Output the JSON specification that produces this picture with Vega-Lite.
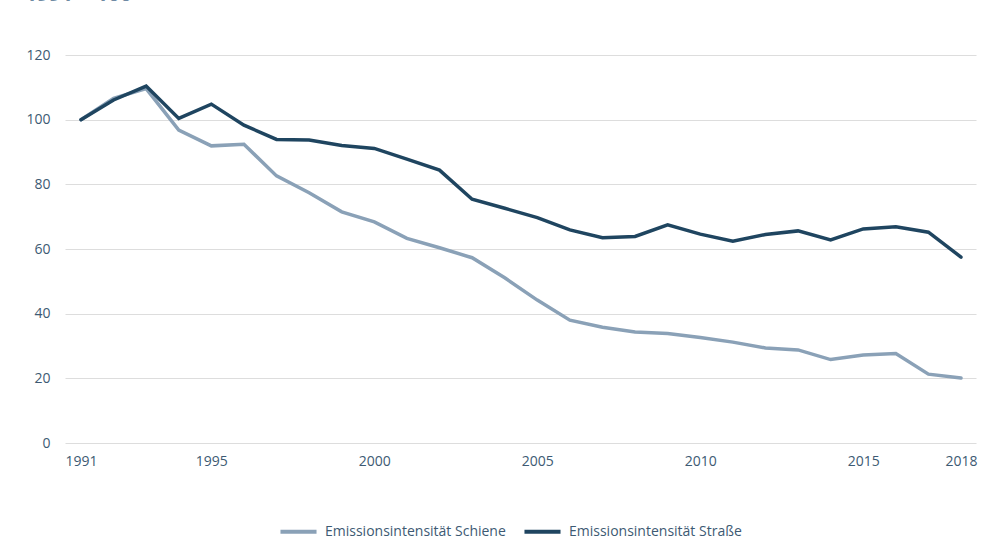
{
  "$schema": "https://vega.github.io/schema/vega-lite/v6.json",
  "autosize": "none",
  "width": 911,
  "height": 388,
  "padding": {"left": 65, "top": 55, "right": 6, "bottom": 97},
  "background": "white",
  "title": {
    "text": "1991 = 100",
    "anchor": "start",
    "offset": 43,
    "dx": -1,
    "fontSize": 21,
    "font": "Open Sans",
    "fontWeight": "bold",
    "color": "#6f8aa3"
  },
  "data": {
    "values": [
      {"year": 1991, "series": "Emissionsintensität Schiene", "value": 100},
      {"year": 1992, "series": "Emissionsintensität Schiene", "value": 106.6},
      {"year": 1993, "series": "Emissionsintensität Schiene", "value": 109.6},
      {"year": 1994, "series": "Emissionsintensität Schiene", "value": 96.8},
      {"year": 1995, "series": "Emissionsintensität Schiene", "value": 91.9},
      {"year": 1996, "series": "Emissionsintensität Schiene", "value": 92.4},
      {"year": 1997, "series": "Emissionsintensität Schiene", "value": 82.6},
      {"year": 1998, "series": "Emissionsintensität Schiene", "value": 77.4},
      {"year": 1999, "series": "Emissionsintensität Schiene", "value": 71.5},
      {"year": 2000, "series": "Emissionsintensität Schiene", "value": 68.4},
      {"year": 2001, "series": "Emissionsintensität Schiene", "value": 63.3},
      {"year": 2002, "series": "Emissionsintensität Schiene", "value": 60.4},
      {"year": 2003, "series": "Emissionsintensität Schiene", "value": 57.3},
      {"year": 2004, "series": "Emissionsintensität Schiene", "value": 51.1},
      {"year": 2005, "series": "Emissionsintensität Schiene", "value": 44.2},
      {"year": 2006, "series": "Emissionsintensität Schiene", "value": 38.0},
      {"year": 2007, "series": "Emissionsintensität Schiene", "value": 35.8},
      {"year": 2008, "series": "Emissionsintensität Schiene", "value": 34.3},
      {"year": 2009, "series": "Emissionsintensität Schiene", "value": 33.9},
      {"year": 2010, "series": "Emissionsintensität Schiene", "value": 32.6},
      {"year": 2011, "series": "Emissionsintensität Schiene", "value": 31.2},
      {"year": 2012, "series": "Emissionsintensität Schiene", "value": 29.4},
      {"year": 2013, "series": "Emissionsintensität Schiene", "value": 28.8},
      {"year": 2014, "series": "Emissionsintensität Schiene", "value": 25.8},
      {"year": 2015, "series": "Emissionsintensität Schiene", "value": 27.2},
      {"year": 2016, "series": "Emissionsintensität Schiene", "value": 27.7},
      {"year": 2017, "series": "Emissionsintensität Schiene", "value": 21.3},
      {"year": 2018, "series": "Emissionsintensität Schiene", "value": 20.1},
      {"year": 1991, "series": "Emissionsintensität Straße", "value": 100},
      {"year": 1992, "series": "Emissionsintensität Straße", "value": 106.1},
      {"year": 1993, "series": "Emissionsintensität Straße", "value": 110.4},
      {"year": 1994, "series": "Emissionsintensität Straße", "value": 100.4},
      {"year": 1995, "series": "Emissionsintensität Straße", "value": 104.8},
      {"year": 1996, "series": "Emissionsintensität Straße", "value": 98.3},
      {"year": 1997, "series": "Emissionsintensität Straße", "value": 93.9},
      {"year": 1998, "series": "Emissionsintensität Straße", "value": 93.7},
      {"year": 1999, "series": "Emissionsintensität Straße", "value": 92.0},
      {"year": 2000, "series": "Emissionsintensität Straße", "value": 91.1},
      {"year": 2001, "series": "Emissionsintensität Straße", "value": 87.8},
      {"year": 2002, "series": "Emissionsintensität Straße", "value": 84.4},
      {"year": 2003, "series": "Emissionsintensität Straße", "value": 75.4},
      {"year": 2004, "series": "Emissionsintensität Straße", "value": 72.6},
      {"year": 2005, "series": "Emissionsintensität Straße", "value": 69.7},
      {"year": 2006, "series": "Emissionsintensität Straße", "value": 65.9},
      {"year": 2007, "series": "Emissionsintensität Straße", "value": 63.5},
      {"year": 2008, "series": "Emissionsintensität Straße", "value": 63.9},
      {"year": 2009, "series": "Emissionsintensität Straße", "value": 67.5},
      {"year": 2010, "series": "Emissionsintensität Straße", "value": 64.6},
      {"year": 2011, "series": "Emissionsintensität Straße", "value": 62.4},
      {"year": 2012, "series": "Emissionsintensität Straße", "value": 64.5},
      {"year": 2013, "series": "Emissionsintensität Straße", "value": 65.6},
      {"year": 2014, "series": "Emissionsintensität Straße", "value": 62.8},
      {"year": 2015, "series": "Emissionsintensität Straße", "value": 66.2},
      {"year": 2016, "series": "Emissionsintensität Straße", "value": 66.9},
      {"year": 2017, "series": "Emissionsintensität Straße", "value": 65.2},
      {"year": 2018, "series": "Emissionsintensität Straße", "value": 57.5}
    ]
  },
  "mark": {"type": "line", "strokeWidth": 3.5, "strokeJoin": "miter", "strokeCap": "round"},
  "encoding": {
    "x": {
      "field": "year",
      "type": "quantitative",
      "scale": {"domain": [1990.51, 2018.46], "nice": false, "zero": false},
      "axis": {
        "title": null,
        "values": [1991, 1995, 2000, 2005, 2010, 2015, 2018],
        "format": "d",
        "grid": false,
        "domain": false,
        "ticks": false,
        "labelPadding": 11,
        "labelFontSize": 14,
        "labelFont": "Open Sans",
        "labelColor": "#3d5a73"
      }
    },
    "y": {
      "field": "value",
      "type": "quantitative",
      "scale": {"domain": [0, 120], "nice": false},
      "axis": {
        "title": null,
        "values": [0, 20, 40, 60, 80, 100, 120],
        "grid": true,
        "gridColor": "#dddddd",
        "gridWidth": 1,
        "domain": false,
        "ticks": false,
        "labelPadding": 15,
        "labelFontSize": 14,
        "labelFont": "Open Sans",
        "labelColor": "#3d5a73"
      }
    },
    "color": {
      "field": "series",
      "type": "nominal",
      "scale": {
        "domain": ["Emissionsintensität Schiene", "Emissionsintensität Straße"],
        "range": ["#8aa1b7", "#1f4560"]
      },
      "legend": {
        "title": null,
        "orient": "none",
        "legendX": 213,
        "legendY": 456,
        "direction": "horizontal",
        "symbolType": "stroke",
        "symbolSize": 1300,
        "symbolStrokeWidth": 4,
        "labelFontSize": 14,
        "labelFont": "Open Sans",
        "labelColor": "#3d5a73",
        "labelLimit": 400,
        "labelOffset": 6,
        "columnPadding": 10
      }
    }
  },
  "config": {"view": {"stroke": null}}
}
